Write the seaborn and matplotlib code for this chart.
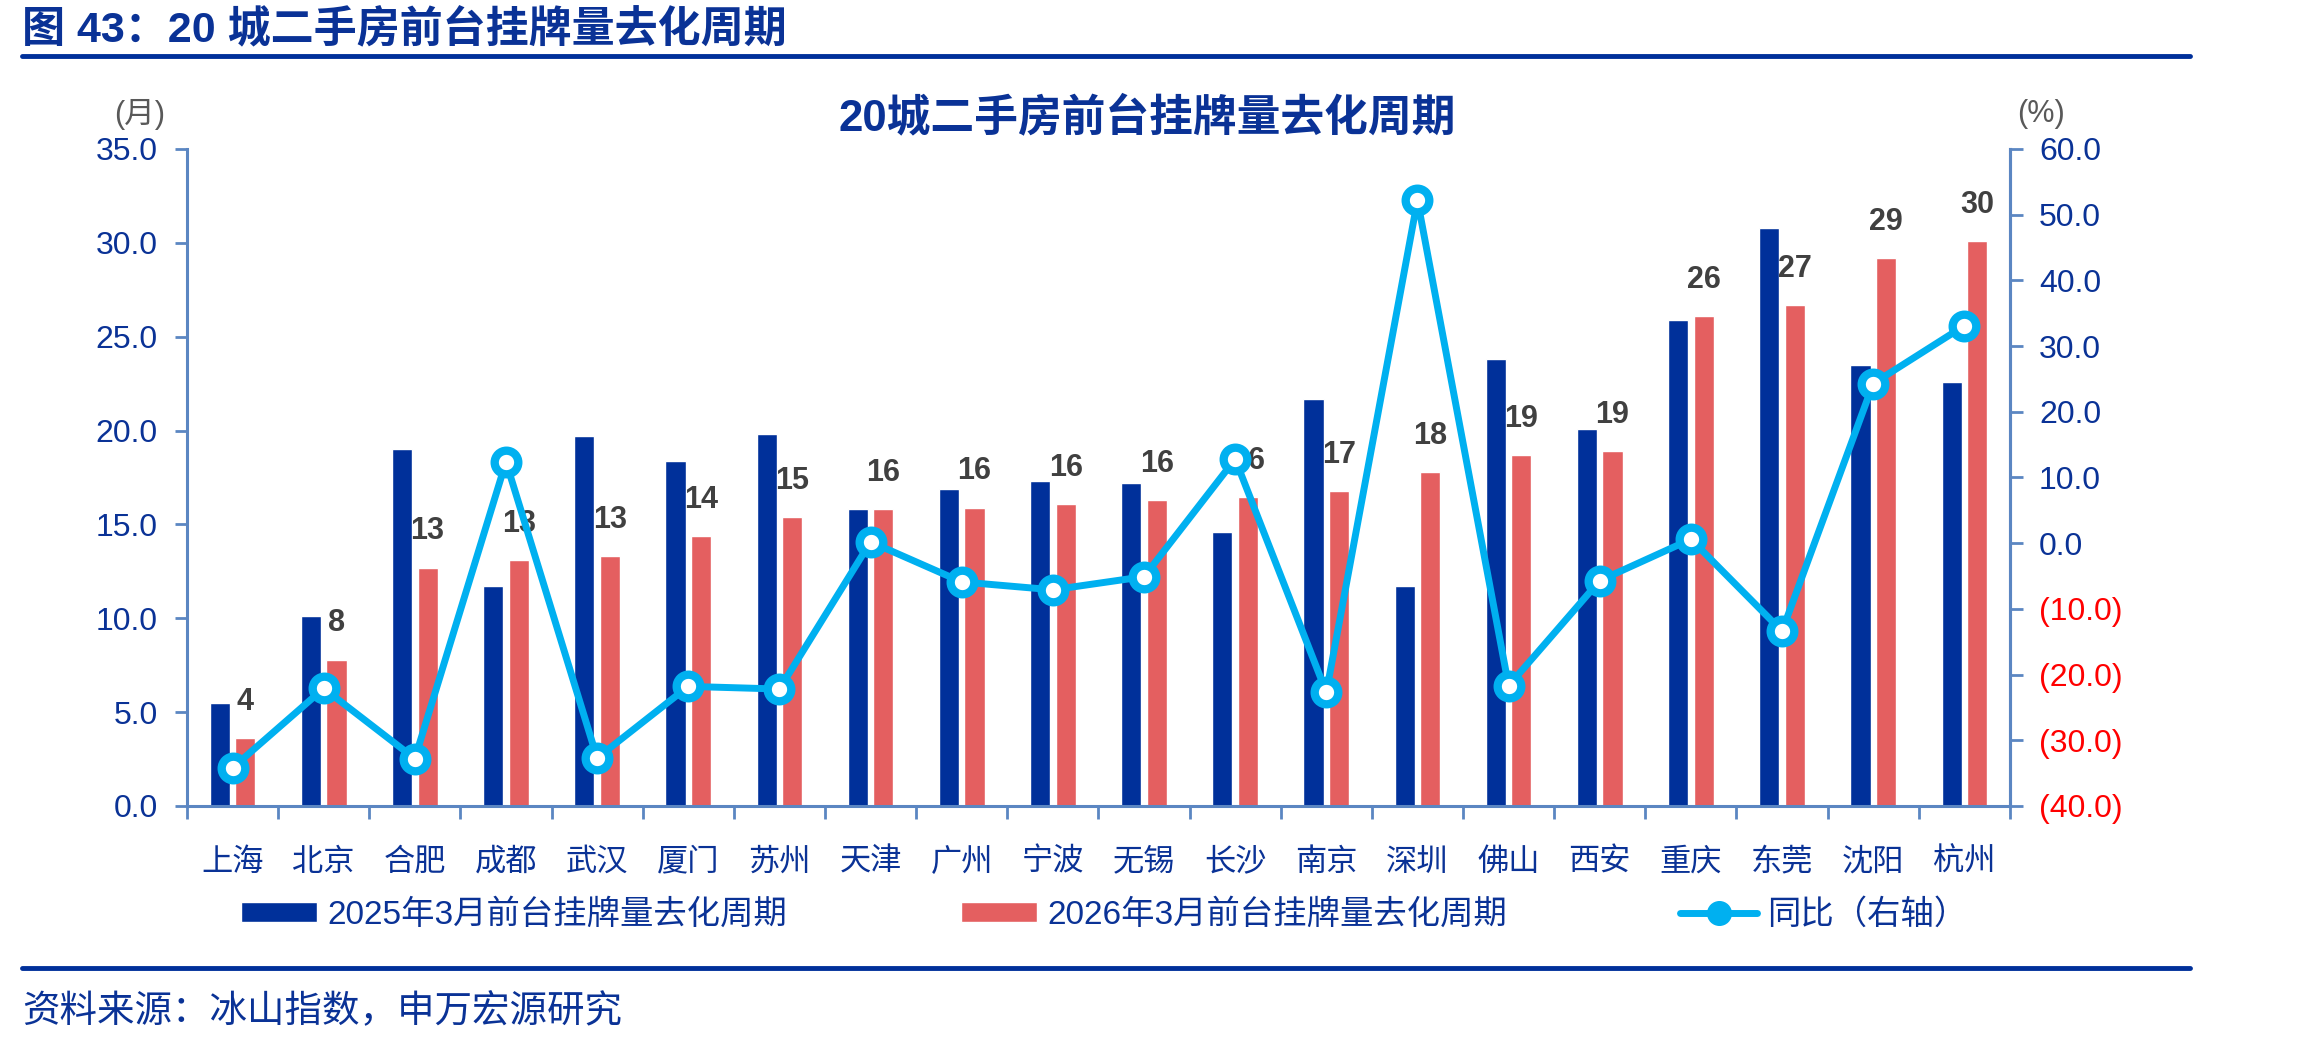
import numpy as np
import pandas as pd
import seaborn as sns
import matplotlib.pyplot as plt
from matplotlib.lines import Line2D

# data
cities = ['上海', '北京', '合肥', '成都', '武汉', '厦门', '苏州', '天津', '广州', '宁波',
          '无锡', '长沙', '南京', '深圳', '佛山', '西安', '重庆', '东莞', '沈阳', '杭州']
cycle_2025 = [5.5, 10.1, 19.0, 11.7, 19.7, 18.4, 19.8, 15.8, 16.9, 17.3,
              17.2, 14.6, 21.7, 11.7, 23.8, 20.1, 25.9, 30.8, 23.5, 22.6]
cycle_2026 = [3.6, 7.8, 12.7, 13.1, 13.3, 14.4, 15.4, 15.8, 15.9, 16.1,
              16.3, 16.48, 16.8, 17.8, 18.7, 18.9, 26.1, 26.7, 29.2, 30.1]
yoy = [-34.2, -22.1, -32.8, 12.4, -32.7, -21.8, -22.2, 0.2, -5.9, -7.1,
       -5.1, 12.8, -22.7, 52.2, -21.7, -5.7, 0.6, -13.4, 24.3, 33.1]
series_names = ['2025年3月前台挂牌量去化周期', '2026年3月前台挂牌量去化周期']
line_name = '同比（右轴）'

navy = '#00309A'
text_blue = '#0A3296'
red = '#E45F60'
cyan = '#00B0F0'
spine_c = '#5B86C2'

sns.set_style('white')
plt.rcParams['font.family'] = ['Liberation Sans', 'Noto Sans CJK SC', 'DejaVu Sans']

df = pd.DataFrame({
    'city': cities * 2,
    'value': cycle_2025 + cycle_2026,
    'series': [series_names[0]] * len(cities) + [series_names[1]] * len(cities),
})

fig = plt.figure(figsize=(23.14, 10.44), dpi=100)
ax = fig.add_axes([0.0808, 0.228, 0.7878, 0.6293])

sns.barplot(data=df, x='city', y='value', hue='series', order=cities,
            hue_order=series_names, palette=[navy, red], width=0.56, gap=0.21,
            saturation=1, ax=ax)
handles, labels = ax.get_legend_handles_labels()
ax.get_legend().remove()

# value labels above the 2026 bars
for i, v in enumerate(cycle_2026):
    ax.annotate(f'{v:.0f}', xy=(i + 0.14, v), xytext=(0, 26), textcoords='offset points',
                ha='center', va='center', fontsize=22, fontweight='bold', color='#404040')

ax.set_ylim(0, 35)
ax.set_yticks(np.arange(0, 35.1, 5))
ax.set_yticklabels([f'{t:.1f}' for t in np.arange(0, 35.1, 5)])
ax.set_xlim(-0.5, len(cities) - 0.5)
ax.set_xlabel('')
ax.set_ylabel('')

ax2 = ax.twinx()
ax2.plot(np.arange(len(cities)), yoy, color=cyan, lw=5, marker='o', ms=17,
         mfc='white', mec=cyan, mew=6, zorder=5)
ax2.set_ylim(-40, 60)
rt = np.arange(-40, 61, 10)
ax2.set_yticks(rt)
ax2.set_yticklabels([f'{t:.1f}' if t >= 0 else f'({-t:.1f})' for t in rt])
for lab, t in zip(ax2.get_yticklabels(), rt):
    lab.set_color(text_blue if t >= 0 else '#FF0000')

for a in (ax, ax2):
    a.spines['top'].set_visible(False)
    for s in ('left', 'right', 'bottom'):
        a.spines[s].set_color(spine_c)
        a.spines[s].set_linewidth(2.2)
ax2.spines['left'].set_visible(False)
ax2.spines['bottom'].set_visible(False)

ax.tick_params(axis='y', direction='out', length=9, width=2, color=spine_c,
               labelsize=23, labelcolor=text_blue, pad=12, left=True)
ax2.tick_params(axis='y', direction='out', length=9, width=2, color=spine_c,
                labelsize=23, pad=12, right=True)

# category labels in the middle, tick marks on category boundaries
ax.set_xticks(np.arange(len(cities)))
ax.set_xticklabels(cities)
ax.tick_params(axis='x', which='major', length=0, labelsize=22.5, labelcolor=text_blue, pad=30)
ax.set_xticks(np.arange(-0.5, len(cities), 1), minor=True)
ax.tick_params(axis='x', which='minor', direction='out', length=9, width=2,
               color=spine_c, bottom=True)

line_handle = Line2D([], [], color=cyan, lw=5, marker='o', ms=17, mfc=cyan, mec=cyan)
fig.legend(handles + [line_handle], labels + [line_name], loc='center',
           bbox_to_anchor=(1104 / 2314, 1 - 915 / 1044), ncol=3, frameon=False,
           fontsize=24, labelcolor=text_blue, handlelength=2.3, handleheight=0.55,
           handletextpad=0.3, columnspacing=5.2)

fig.text(22 / 2314, 1 - 30 / 1044, '图 43：20 城二手房前台挂牌量去化周期', ha='left', va='center',
         fontsize=31, fontweight='bold', color=text_blue)
fig.add_artist(Line2D([22 / 2314, 2190 / 2314], [1 - 56 / 1044] * 2, color=navy, lw=3.5))
fig.add_artist(Line2D([22 / 2314, 2190 / 2314], [1 - 968 / 1044] * 2, color=navy, lw=3.5))
fig.text(1147 / 2314, 1 - 118 / 1044, '20城二手房前台挂牌量去化周期', ha='center', va='center',
         fontsize=31.5, fontweight='bold', color=text_blue)
fig.text(140 / 2314, 1 - 114 / 1044, '(月)', ha='center', va='center', fontsize=22, color='#595959')
fig.text(2041 / 2314, 1 - 114 / 1044, '(%)', ha='center', va='center', fontsize=22, color='#595959')
fig.text(22 / 2314, 1 - 1012 / 1044, '资料来源：冰山指数，申万宏源研究', ha='left', va='center',
         fontsize=27, color=text_blue)

fig.savefig('out.png', dpi=100)
